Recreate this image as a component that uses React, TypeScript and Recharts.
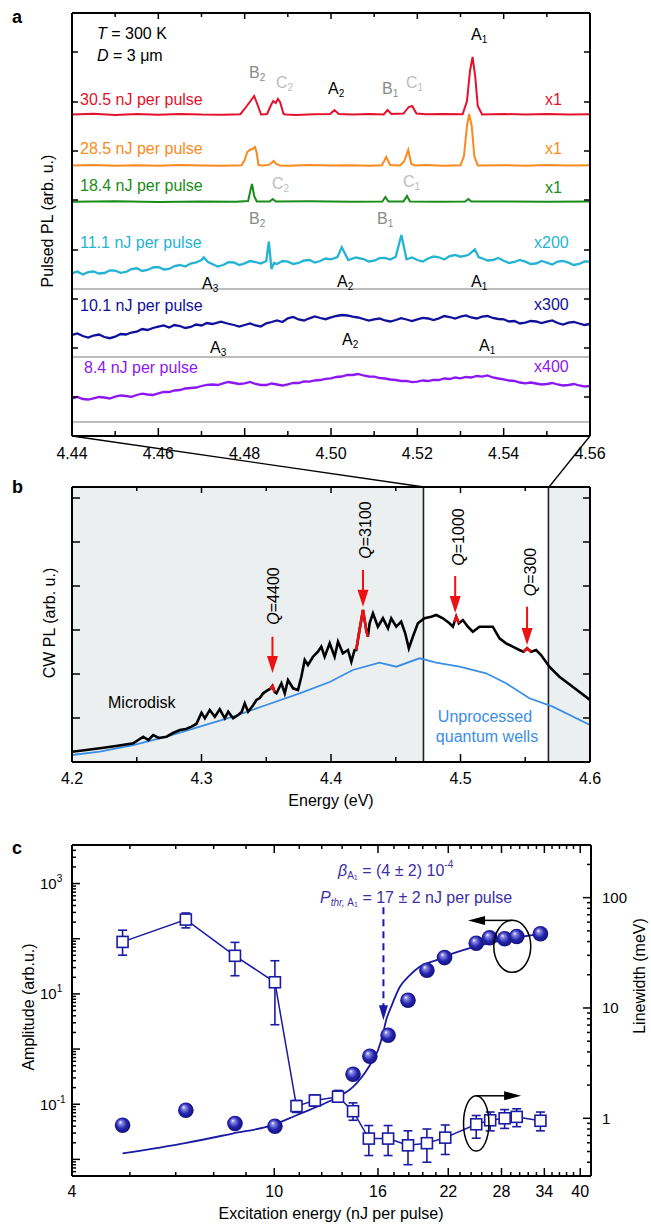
import React from 'react';
import { ComposedChart, Line, XAxis, YAxis, ReferenceLine, ReferenceArea, ReferenceDot, ErrorBar } from 'recharts';

const FONT = "'Liberation Sans', Arial, Helvetica, sans-serif";
const NAVY = '#1a1aa3';
const ANNO = '#3b2fa6';
const AX = { stroke: '#000', strokeWidth: 2 };

// ---------------- Panel a : pulsed PL ----------------
const energyTicksA = [4.44, 4.45, 4.46, 4.47, 4.48, 4.49, 4.5, 4.51, 4.52, 4.53, 4.54, 4.55, 4.56];
const pulsedTicks = [39, 88, 137, 186, 236, 285, 334, 384];
const zeroLinesA = [147, 79, 14];

const trace30_5 = [
  [4.44, 321.5], [4.445, 322.2], [4.45, 321], [4.455, 321.9], [4.46, 321.2], [4.465, 322.1], [4.47, 321.4], [4.475, 321.2], [4.479, 321.8],
  [4.4805, 330], [4.4822, 340], [4.483, 331], [4.4838, 321.5], [4.4852, 322], [4.486, 330], [4.4866, 335], [4.4872, 333], [4.4877, 337], [4.4882, 334], [4.489, 322], [4.4895, 321.5],
  [4.492, 321], [4.496, 321.8], [4.4998, 322], [4.5008, 326], [4.5018, 322], [4.505, 321.4], [4.509, 322], [4.5122, 321.6], [4.5131, 326], [4.514, 322],
  [4.5168, 322.5], [4.518, 329], [4.5188, 330], [4.5198, 322.5], [4.522, 321.7], [4.526, 322], [4.5305, 321.7], [4.5315, 335], [4.5322, 365], [4.5328, 379],
  [4.5334, 360], [4.534, 330], [4.535, 321.6], [4.54, 322], [4.545, 321.4], [4.55, 322], [4.555, 321.5], [4.56, 321.8],
];
const trace28_5 = [
  [4.44, 270.5], [4.445, 271], [4.45, 270.2], [4.455, 270.8], [4.46, 270.3], [4.465, 271], [4.47, 270.6], [4.475, 270.2], [4.4793, 270.8],
  [4.48, 276], [4.4806, 284], [4.4812, 286], [4.4818, 287], [4.4824, 289], [4.4828, 283], [4.4832, 271], [4.484, 270.5], [4.4855, 271], [4.4862, 273],
  [4.4867, 275], [4.4873, 272], [4.4882, 270.6], [4.49, 270.3], [4.495, 270.9], [4.5, 270.4], [4.505, 270.8], [4.509, 270.3], [4.5118, 270.8], [4.5128, 279],
  [4.5137, 271], [4.516, 270.6], [4.517, 275], [4.5179, 286], [4.5186, 272], [4.5195, 270.5], [4.522, 270.9], [4.526, 270.3], [4.53, 270.8], [4.5308, 280],
  [4.5315, 310], [4.532, 322], [4.5326, 310], [4.5332, 280], [4.534, 270.5], [4.54, 270.8], [4.545, 270.3], [4.55, 270.9], [4.555, 270.4], [4.56, 270.7],
];
const trace18_4 = [
  [4.44, 234.3], [4.45, 234.7], [4.46, 234.1], [4.47, 234.6], [4.478, 234.2], [4.4808, 235], [4.4813, 245], [4.4817, 252], [4.4822, 240], [4.4828, 234.5],
  [4.4858, 234.5], [4.4865, 237], [4.4872, 234.4], [4.495, 234.7], [4.505, 234.2], [4.5119, 234.5], [4.5126, 239], [4.5133, 234.5], [4.5168, 234.6],
  [4.5176, 240], [4.5183, 234.5], [4.525, 234.3], [4.5311, 234.5], [4.5318, 237], [4.5325, 234.4], [4.54, 234.6], [4.55, 234.2], [4.56, 234.5],
];
const trace11_1 = [
  [4.44, 162.7], [4.44125, 164.5], [4.4425, 161.5], [4.44375, 163.8], [4.445, 164.5], [4.44625, 162.5], [4.4475, 163], [4.44875, 165.5], [4.45, 165.3],
  [4.45125, 163.2], [4.4525, 164], [4.45375, 166.8], [4.455, 167.7], [4.45625, 165], [4.4575, 166], [4.45875, 168.5], [4.46, 169], [4.46125, 166.5],
  [4.4625, 167], [4.46375, 170], [4.465, 171], [4.46625, 169.5], [4.4675, 172.5], [4.46875, 173.5], [4.47, 176], [4.4705, 178.7], [4.4715, 174],
  [4.4725, 172], [4.47375, 169.5], [4.475, 171], [4.47625, 173.8], [4.4775, 173.5], [4.47875, 171], [4.48, 172.7], [4.48125, 175], [4.4825, 174],
  [4.48375, 172.5], [4.485, 175], [4.4856, 194.3], [4.4862, 167], [4.4868, 173], [4.4875, 172], [4.48875, 175], [4.49, 174.3], [4.49125, 172],
  [4.4925, 173], [4.49375, 175.5], [4.495, 176], [4.49625, 173.5], [4.4975, 175], [4.49875, 177.5], [4.5, 176.7], [4.5015, 179], [4.5025, 188.7],
  [4.504, 176], [4.50575, 178.5], [4.5075, 177], [4.50875, 174.5], [4.51, 175.3], [4.51125, 177.8], [4.5125, 178], [4.51375, 176.5], [4.515, 179.3],
  [4.5163, 201], [4.5175, 176.7], [4.51875, 178.5], [4.52, 176], [4.52125, 174.5], [4.5225, 177.5], [4.52375, 179.5], [4.525, 178.7], [4.52625, 176.5],
  [4.5275, 180], [4.52875, 181], [4.53, 179.3], [4.5318, 181], [4.5333, 186.7], [4.5342, 179], [4.535, 177.7], [4.53625, 175.5], [4.5375, 176],
  [4.53875, 178], [4.54, 175.3], [4.54125, 173], [4.5425, 174], [4.54375, 176], [4.545, 174.3], [4.54625, 172], [4.5475, 172.5], [4.54875, 175],
  [4.55, 173.3], [4.55125, 171.5], [4.5525, 174.5], [4.55375, 175], [4.555, 173.3], [4.55625, 171], [4.5575, 172], [4.55875, 174.5], [4.56, 174.3],
];
const trace10_1 = [
  [4.44, 101], [4.44125, 102.5], [4.4425, 100], [4.44375, 98.5], [4.445, 100.5], [4.44625, 101.5], [4.4475, 99], [4.44875, 97.8], [4.45, 99.3],
  [4.45125, 102], [4.4525, 101.5], [4.45375, 103.5], [4.455, 104.3], [4.45625, 107], [4.4575, 106], [4.45875, 108], [4.46, 109.3], [4.46125, 110.5],
  [4.4625, 108.5], [4.46375, 111], [4.465, 110], [4.46625, 108], [4.4675, 109], [4.46875, 111.5], [4.47, 110.5], [4.47125, 113], [4.4725, 112],
  [4.4745, 114.3], [4.476, 112.5], [4.4775, 111], [4.47875, 109.5], [4.48, 111], [4.48125, 112.5], [4.4825, 110.5], [4.48375, 109.5], [4.485, 112.7],
  [4.48625, 114], [4.4875, 115.5], [4.48875, 114], [4.49, 117.7], [4.49125, 119], [4.4925, 116.5], [4.49375, 115.5], [4.495, 117.7], [4.49625, 119.5],
  [4.4975, 118], [4.49875, 116.8], [4.5, 118.7], [4.50125, 120], [4.5025, 121], [4.50375, 120.5], [4.505, 119.3], [4.50625, 118.5], [4.5075, 117],
  [4.50875, 115.5], [4.51, 116.7], [4.51125, 117.5], [4.5125, 115.5], [4.51375, 114.5], [4.515, 116], [4.51625, 117.8], [4.5175, 116.5], [4.51875, 115],
  [4.52, 116.7], [4.52125, 118.2], [4.5225, 117.5], [4.52375, 116], [4.525, 117.7], [4.52625, 120], [4.5275, 119], [4.52875, 117.5], [4.53, 119.3],
  [4.53125, 120.5], [4.5325, 118.5], [4.53375, 117.5], [4.535, 119.3], [4.53625, 120], [4.5375, 118], [4.53875, 117], [4.54, 116.7], [4.54125, 114.5],
  [4.5425, 115], [4.54375, 112.5], [4.545, 113.3], [4.54625, 115], [4.5475, 114.5], [4.54875, 113], [4.55, 114.3], [4.55125, 115.5], [4.5525, 113],
  [4.55375, 111.5], [4.555, 113.3], [4.55625, 114], [4.5575, 112.5], [4.55875, 111], [4.56, 112],
];
const trace8_4 = [
  [4.44, 37.7], [4.44125, 39], [4.4425, 37], [4.44375, 36.5], [4.445, 37.7], [4.44625, 39], [4.4475, 38.5], [4.44875, 37.5], [4.45, 39.3],
  [4.45125, 40.5], [4.4525, 40], [4.45375, 39.2], [4.455, 41], [4.45625, 42.3], [4.4575, 41.5], [4.45875, 41], [4.46, 42.7], [4.46125, 44],
  [4.4625, 44], [4.46375, 45.5], [4.465, 46], [4.46625, 47.5], [4.4675, 48], [4.46875, 48.5], [4.47, 50], [4.47125, 51.2], [4.4725, 51.5],
  [4.47375, 51], [4.475, 52.7], [4.47625, 54], [4.4775, 53], [4.47875, 52], [4.48, 52.7], [4.48125, 54], [4.4825, 52], [4.48375, 51], [4.485, 51],
  [4.48625, 52.5], [4.4875, 51.5], [4.48875, 50.5], [4.49, 51.7], [4.49125, 53], [4.4925, 53], [4.49375, 54.5], [4.495, 54.3], [4.49625, 55.5],
  [4.4975, 56], [4.49875, 57.2], [4.5, 57.7], [4.50125, 59], [4.5025, 59.5], [4.50375, 61], [4.505, 61], [4.50625, 62], [4.5075, 60.5], [4.50875, 59.5],
  [4.51, 59.3], [4.51125, 58], [4.5125, 57.5], [4.51375, 56.5], [4.515, 56], [4.51625, 55], [4.5175, 55], [4.51875, 53.8], [4.52, 54.3], [4.52125, 55.5],
  [4.5225, 55], [4.52375, 56.2], [4.525, 56], [4.52625, 57.5], [4.5275, 57], [4.52875, 58.5], [4.53, 57.7], [4.53125, 59], [4.5325, 58.5], [4.53375, 60],
  [4.535, 59.3], [4.53625, 60.5], [4.5375, 58.5], [4.53875, 57.5], [4.54, 56.7], [4.54125, 55.5], [4.5425, 55], [4.54375, 53.5], [4.545, 52.7],
  [4.54625, 53.5], [4.5475, 52.5], [4.54875, 51.5], [4.55, 52], [4.55125, 53], [4.5525, 51.5], [4.55375, 50.5], [4.555, 51], [4.55625, 52], [4.5575, 50.5],
  [4.55875, 49.5], [4.56, 50],
];
const tracesA = [
  { name: '30.5', pts: trace30_5, color: '#e3122c', w: 2 },
  { name: '28.5', pts: trace28_5, color: '#fb8a1e', w: 2 },
  { name: '18.4', pts: trace18_4, color: '#1a8c1a', w: 2 },
  { name: '11.1', pts: trace11_1, color: '#25b3d3', w: 2.3 },
  { name: '10.1', pts: trace10_1, color: '#10109c', w: 2.3 },
  { name: '8.4', pts: trace8_4, color: '#8c17f4', w: 2.3 },
];

// ---------------- Panel b : CW PL ----------------
const energyTicksB = [4.2, 4.25, 4.3, 4.35, 4.4, 4.45, 4.5, 4.55, 4.6];
const cwTicks = [44, 88, 132, 176, 220, 264];
const shadedB = [[4.2, 4.4714], [4.5679, 4.6]];
const microdisk = [
  [4.2, 10.3], [4.211, 12], [4.2216, 13.7], [4.234, 16], [4.2473, 18.7], [4.255, 25.3], [4.259, 22], [4.2627, 27], [4.267, 24], [4.273, 25.3],
  [4.278, 29], [4.2833, 32], [4.288, 33], [4.2923, 35.3], [4.296, 38], [4.3, 49.3], [4.3026, 43.7], [4.3064, 52], [4.3103, 45.3], [4.3141, 52.7],
  [4.318, 43.7], [4.3206, 50.3], [4.3244, 43.7], [4.3283, 47], [4.331, 50], [4.3334, 58.7], [4.336, 50.3], [4.34, 57], [4.3424, 62], [4.345, 64],
  [4.3476, 68.7], [4.3514, 72], [4.353, 73], [4.3548, 76], [4.3565, 70], [4.3579, 68.7], [4.3617, 78.7], [4.3643, 68.7], [4.3668, 82], [4.3707, 73.7],
  [4.3745, 72], [4.3771, 85.3], [4.3797, 102], [4.3822, 97], [4.3861, 105.3], [4.3899, 110.3], [4.3925, 115.3], [4.3951, 105.3], [4.399, 118.7],
  [4.4028, 105.3], [4.4054, 120.3], [4.4092, 108.7], [4.4131, 112], [4.4157, 100.3], [4.4182, 112], [4.4195, 112], [4.4216, 128.7], [4.4247, 152],
  [4.4272, 132], [4.4285, 125.3], [4.4298, 138.7], [4.4324, 148.7], [4.4362, 135.3], [4.4401, 143.7], [4.444, 133.7], [4.4465, 143.7], [4.4504, 135.3],
  [4.4542, 140.3], [4.4573, 128.7], [4.4601, 113.7], [4.4632, 125.3], [4.4671, 138.7], [4.4722, 143.7], [4.4774, 145.3], [4.4812, 147], [4.4864, 143.7],
  [4.4915, 138.7], [4.4941, 135.3], [4.4954, 140.3], [4.4967, 145.3], [4.4987, 138.7], [4.5018, 142], [4.5057, 135.3], [4.5095, 130.3], [4.5147, 135.3],
  [4.5198, 135.3], [4.5249, 135.3], [4.5301, 123.7], [4.5352, 118.7], [4.5403, 115.3], [4.5455, 112], [4.5486, 110.3], [4.5514, 113.7], [4.5545, 110.3],
  [4.5584, 112], [4.5622, 107], [4.5686, 95.3], [4.5764, 85.3], [4.5866, 75.3], [4.6, 62],
];
const quantumWells = [
  [4.2, 7], [4.2216, 10.3], [4.2473, 17], [4.273, 25.3], [4.2987, 35.3], [4.3244, 45.3], [4.35, 57], [4.3758, 68.7], [4.399, 80], [4.4169, 92],
  [4.4375, 99.3], [4.4504, 95.3], [4.4684, 103.7], [4.4812, 99.3], [4.4992, 95.3], [4.5198, 88.7], [4.5352, 78.7], [4.5532, 63.7], [4.5712, 55.3], [4.6, 37],
];
const modes = [
  { q: '4400', e: 4.3548, from: 125.3, tip: 89, seg: [[4.353, 73], [4.3548, 76], [4.3565, 70]] },
  { q: '3100', e: 4.4247, from: 192, tip: 155.3, seg: [[4.4195, 112], [4.4216, 128.7], [4.4247, 152], [4.4272, 132], [4.4285, 125.3]] },
  { q: '1000', e: 4.4959, from: 186, tip: 149, seg: [[4.4954, 140.3], [4.4967, 145.3], [4.4987, 138.7]] },
  { q: '300', e: 4.5514, from: 155.3, tip: 117, seg: [[4.5486, 110.3], [4.5514, 113.7], [4.5545, 110.3]] },
];

// ---------------- Panel c : amplitude & linewidth ----------------
const excTicks = [4, 5.2, 6.4, 7.6, 8.8, 10, 11.2, 12.4, 13.6, 14.8, 16, 17.2, 18.4, 19.6, 20.8, 22, 23.2, 24.4, 25.6, 26.8, 28, 29.2, 30.4, 31.6, 32.8, 34, 35.2, 36.4, 37.6, 38.8, 40];
const excMajor = [4, 10, 16, 22, 28, 34, 40];
const mantissas = [1, 2, 3, 4, 5, 6, 7, 8, 9];
const ampDecades = [0.001, 0.01, 0.1, 1, 10, 100, 1000];
const lwDecades = [0.1, 1, 10, 100];
const ampLabelExps = [-1, 1, 3];

const ampE = [5.03, 6.7, 8.37, 10.03, 14.29, 15.42, 16.75, 18.33, 19.97, 21.63, 24.97, 26.53, 28.4, 30.0, 33.4];
const ampV = [0.0417, 0.078, 0.0447, 0.04, 0.349, 0.74, 1.78, 7.66, 26.8, 45.5, 83, 104, 100, 110, 123];
const fitE = [5.03, 6.72, 8.28, 9.92, 11.06, 12.3, 13.35, 14.29, 15.42, 16.0, 16.37, 16.6, 16.98, 17.66, 18.47, 19.3, 20.8, 22.4, 24.97, 28.64, 33.4];
const fitV = [0.0128, 0.0199, 0.0294, 0.0417, 0.0632, 0.095, 0.135, 0.206, 0.51, 0.95, 1.91, 3.33, 5.8, 13.3, 21.7, 30.7, 40.6, 53.7, 72.8, 97.5, 123];
const lwE = [5.03, 6.7, 8.37, 10.03, 11.06, 12.02, 13.35, 14.29, 15.35, 16.75, 18.33, 19.97, 21.7, 24.97, 26.6, 28.4, 30.0, 33.4];
const lwV = [39.7, 63.3, 29.7, 17.1, 1.29, 1.45, 1.57, 1.16, 0.655, 0.655, 0.569, 0.595, 0.668, 0.883, 0.96, 1.0, 1.03, 0.95];
const lwLow = [30.1, 53.2, 19.6, 7.05, 1.13, 1.29, 1.41, 0.96, 0.46, 0.46, 0.38, 0.4, 0.47, 0.66, 0.77, 0.81, 0.84, 0.77];
const lwHigh = [50.7, 72.6, 39.3, 26.8, 1.45, 1.63, 1.79, 1.38, 0.86, 0.86, 0.77, 0.8, 0.87, 1.06, 1.14, 1.2, 1.22, 1.14];

const toXY = (pts: number[][]) => pts.map(([x, y]) => ({ x, y }));
const ampData = ampE.map((x, i) => ({ x, y: ampV[i] }));
const fitData = fitE.map((x, i) => ({ x, y: fitV[i] }));
const lwData = lwE.map((x, i) => ({ x, y: lwV[i], err: [lwV[i] - lwLow[i], lwHigh[i] - lwV[i]] }));
const logTicks = (decades: number[], lo: number, hi: number) =>
  decades.flatMap((d) => mantissas.map((m) => +(m * d).toPrecision(3))).filter((v) => v >= lo * 0.999 && v <= hi * 1.001);
const ampTicks = logTicks(ampDecades, 0.005, 5000);
const lwTicks = logTicks(lwDecades, 0.3, 300);
const isDecade = (v: number) => Math.abs(Math.log10(v) - Math.round(Math.log10(v))) < 1e-6;

// ---------------- tick helper ----------------
function mkTick(side: string, isMajor: (v: number) => boolean, majorLen: number, minorLen: number, label?: (v: number, x: number, y: number) => any) {
  return (props: any) => {
    const { x, y, payload } = props;
    const v = payload.value;
    const len = isMajor(v) ? majorLen : minorLen;
    let x2 = x;
    let y2 = y;
    if (side === 'bottom') y2 = y - len;
    else if (side === 'top') y2 = y + len;
    else if (side === 'left') x2 = x + len;
    else x2 = x - len;
    return (
      <g>
        <line x1={x} y1={y} x2={x2} y2={y2} stroke="#000" strokeWidth={1.5} />
        {label ? label(v, x, y) : null}
      </g>
    );
  };
}
const common = { tickSize: 0, tickMargin: 0, tickLine: false, axisLine: AX, interval: 0 as const, allowDataOverflow: true };

const majA = (v: number) => Math.round(v * 100) % 2 === 0;
const majB = (v: number) => Math.round(v * 100) % 10 === 0;
const majC = (v: number) => excMajor.some((m) => Math.abs(m - v) < 1e-6);
const always = () => true;

const tickLbl = (txt: string, x: number, y: number, size = 16) => (
  <text x={x} y={y} textAnchor="middle" fontSize={size} fontFamily={FONT} fill="#000">{txt}</text>
);

// ---------------- shapes ----------------
const triDown = (w: number, h: number, color: string) => (p: any) => (
  <polygon points={`${p.cx - w},${p.cy - h} ${p.cx + w},${p.cy - h} ${p.cx},${p.cy}`} fill={color} />
);
const triLeft = (w: number, h: number, color: string) => (p: any) => (
  <polygon points={`${p.cx},${p.cy} ${p.cx + h},${p.cy - w} ${p.cx + h},${p.cy + w}`} fill={color} />
);
const triRight = (w: number, h: number, color: string) => (p: any) => (
  <polygon points={`${p.cx},${p.cy} ${p.cx - h},${p.cy - w} ${p.cx - h},${p.cy + w}`} fill={color} />
);
const ellipse = (rx: number, ry: number) => (p: any) => (
  <ellipse cx={p.cx} cy={p.cy} rx={rx} ry={ry} fill="none" stroke="#000" strokeWidth={1.5} />
);
const Sphere = (p: any) => {
  const id = `sph${p.index}`;
  return (
    <g key={`s${p.index}`}>
      <defs>
        <radialGradient id={id} cx="0.5" cy="0.5" r="0.6" fx="0.35" fy="0.3">
          <stop offset="0" stopColor="#ffffff" />
          <stop offset="0.18" stopColor="#8d8de6" />
          <stop offset="0.55" stopColor="#2424ad" />
          <stop offset="1" stopColor="#0b0b6a" />
        </radialGradient>
      </defs>
      <circle cx={p.cx} cy={p.cy} r={7.8} fill={`url(#${id})`} />
    </g>
  );
};
const SquareDot = (p: any) => (
  <rect key={`q${p.index}`} x={p.cx - 5.5} y={p.cy - 5.5} width={11} height={11} fill="#fff" stroke={NAVY} strokeWidth={1.6} />
);

// ---------------- overlay text helpers ----------------
const T = ({ x, y, children, anchor = 'start', size = 16, color = '#000', weight, rotate, italic }: any) => (
  <text
    x={x}
    y={y}
    textAnchor={anchor}
    fontSize={size}
    fill={color}
    fontFamily={FONT}
    fontWeight={weight}
    fontStyle={italic ? 'italic' : undefined}
    dominantBaseline="central"
    transform={rotate ? `rotate(${rotate} ${x} ${y})` : undefined}
  >
    {children}
  </text>
);
const Peak = ({ x, y, l, s, color = '#000' }: any) => (
  <T x={x} y={y} color={color}>
    {l}
    <tspan fontSize={10} dy={5}>{s}</tspan>
  </T>
);

const GRAYB = '#8a8a8a';
const GRAYC = '#bdbdbd';
const peaksA = [
  { x: 249, y: 72, l: 'B', s: '2', c: GRAYB }, { x: 276, y: 82, l: 'C', s: '2', c: GRAYC }, { x: 328, y: 88, l: 'A', s: '2', c: '#000' },
  { x: 382, y: 88, l: 'B', s: '1', c: GRAYB }, { x: 406, y: 82, l: 'C', s: '1', c: GRAYC }, { x: 471, y: 34, l: 'A', s: '1', c: '#000' },
  { x: 272, y: 183, l: 'C', s: '2', c: GRAYC }, { x: 403, y: 181, l: 'C', s: '1', c: GRAYC },
  { x: 249, y: 218, l: 'B', s: '2', c: GRAYB }, { x: 377, y: 218, l: 'B', s: '1', c: GRAYB },
  { x: 202, y: 283, l: 'A', s: '3', c: '#000' }, { x: 337, y: 281, l: 'A', s: '2', c: '#000' }, { x: 471, y: 281, l: 'A', s: '1', c: '#000' },
  { x: 210, y: 347, l: 'A', s: '3', c: '#000' }, { x: 342, y: 339, l: 'A', s: '2', c: '#000' }, { x: 479, y: 345, l: 'A', s: '1', c: '#000' },
];
const rowLabels = [
  { t: '30.5 nJ per pulse', m: 'x1', y: 99, my: 99, x: 80, mx: 545, c: '#e3122c' },
  { t: '28.5 nJ per pulse', m: 'x1', y: 148, my: 148, x: 80, mx: 545, c: '#fb8a1e' },
  { t: '18.4 nJ per pulse', m: 'x1', y: 185, my: 187, x: 80, mx: 545, c: '#1a8c1a' },
  { t: '11.1 nJ per pulse', m: 'x200', y: 242, my: 242, x: 80, mx: 534, c: '#25b3d3' },
  { t: '10.1 nJ per pulse', m: 'x300', y: 305, my: 304, x: 80, mx: 534, c: '#10109c' },
  { t: '8.4 nJ per pulse', m: 'x400', y: 367, my: 366, x: 84, mx: 534, c: '#8c17f4' },
];
const qLabels = [
  { q: '4400', x: 273, y: 596 }, { q: '3100', x: 365, y: 530 }, { q: '1000', x: 458, y: 537 }, { q: '300', x: 530, y: 572 },
];

export default function App() {
  return (
    <div style={{ position: 'absolute', left: 0, top: 0, width: 651, height: 1224, background: '#fff' }}>
      {/* Panel a */}
      <div style={{ position: 'absolute', left: 0, top: 0 }}>
        <ComposedChart width={651} height={470} margin={{ top: 12, right: 60, bottom: 33, left: 71 }}>
          <XAxis dataKey="x" type="number" domain={[4.44, 4.56]} ticks={energyTicksA} height={1} {...common}
            tick={mkTick('bottom', majA, 8, 5, (v, x, y) => (majA(v) ? tickLbl(v.toFixed(2), x, y + 23) : null))} />
          <XAxis xAxisId="top" orientation="top" dataKey="x" type="number" domain={[4.44, 4.56]} ticks={energyTicksA} height={1} {...common}
            tick={mkTick('top', majA, 6, 4)} />
          <YAxis type="number" domain={[0, 423]} ticks={pulsedTicks} width={1} {...common} tick={mkTick('left', always, 6, 6)} />
          <YAxis yAxisId="r" orientation="right" type="number" domain={[0, 423]} ticks={pulsedTicks} width={1} {...common} tick={mkTick('right', always, 6, 6)} />
          {zeroLinesA.map((v) => (
            <ReferenceLine key={v} y={v} stroke="#bdbdbd" strokeWidth={2} />
          ))}
          {tracesA.map((t) => (
            <Line key={t.name} data={toXY(t.pts)} dataKey="y" type="linear" stroke={t.color} strokeWidth={t.w} dot={false} activeDot={false} isAnimationActive={false} />
          ))}
        </ComposedChart>
      </div>

      {/* Panel b */}
      <div style={{ position: 'absolute', left: 0, top: 470 }}>
        <ComposedChart width={651} height={320} margin={{ top: 16, right: 60, bottom: 27, left: 71 }}>
          {shadedB.map(([a, b]) => (
            <ReferenceArea key={a} x1={a} x2={b} fill="#eceff0" fillOpacity={1} stroke="none" />
          ))}
          <XAxis dataKey="x" type="number" domain={[4.2, 4.6]} ticks={energyTicksB} height={1} {...common}
            tick={mkTick('bottom', majB, 8, 5, (v, x, y) => (majB(v) ? tickLbl(v.toFixed(1), x, y + 22) : null))} />
          <XAxis xAxisId="top" orientation="top" dataKey="x" type="number" domain={[4.2, 4.6]} ticks={energyTicksB} height={1} {...common}
            tick={mkTick('top', majB, 6, 4)} />
          <YAxis type="number" domain={[0, 275]} ticks={cwTicks} width={1} {...common} tick={mkTick('left', always, 8, 8)} />
          <YAxis yAxisId="r" orientation="right" type="number" domain={[0, 275]} ticks={cwTicks} width={1} {...common} tick={mkTick('right', always, 7, 7)} />
          {shadedB.map(([a, b]) => (
            <ReferenceLine key={`v${a}`} x={a === 4.2 ? b : a} stroke="#222" strokeWidth={1.6} />
          ))}
          <Line data={toXY(quantumWells)} dataKey="y" type="linear" stroke="#3a8ee6" strokeWidth={1.8} dot={false} activeDot={false} isAnimationActive={false} />
          <Line data={toXY(microdisk)} dataKey="y" type="linear" stroke="#000" strokeWidth={2.6} dot={false} activeDot={false} isAnimationActive={false} />
          {modes.map((m) => (
            <Line key={`seg${m.q}`} data={toXY(m.seg)} dataKey="y" type="linear" stroke="#ee1111" strokeWidth={2.6} dot={false} activeDot={false} isAnimationActive={false} />
          ))}
          {modes.map((m) => (
            <ReferenceLine key={`arr${m.q}`} segment={[{ x: m.e, y: m.from }, { x: m.e, y: m.tip + 15 }]} stroke="#ee1111" strokeWidth={2} />
          ))}
          {modes.map((m) => (
            <ReferenceDot key={`hd${m.q}`} x={m.e} y={m.tip} r={0} shape={triDown(5.5, 17, '#ee1111')} />
          ))}
        </ComposedChart>
      </div>

      {/* Panel c */}
      <div style={{ position: 'absolute', left: 0, top: 820 }}>
        <ComposedChart width={651} height={404} margin={{ top: 24, right: 59, bottom: 47, left: 71 }}>
          <XAxis dataKey="x" type="number" scale="log" domain={[4, 42]} ticks={excTicks} height={1} {...common}
            tick={mkTick('bottom', majC, 8, 4, (v, x, y) => (majC(v) ? tickLbl(String(v), x, y + 21) : null))} />
          <XAxis xAxisId="top" orientation="top" dataKey="x" type="number" scale="log" domain={[4, 42]} ticks={excTicks} height={1} {...common}
            tick={mkTick('top', majC, 8, 4)} />
          <YAxis yAxisId="amp" type="number" scale="log" domain={[0.005, 5000]} ticks={ampTicks} width={1} {...common}
            tick={mkTick('left', isDecade, 8, 4, (v, x, y) => {
              const e = Math.round(Math.log10(v));
              if (!isDecade(v) || !ampLabelExps.includes(e)) return null;
              return (
                <text x={x - 32} y={y + 5.3} fontSize={15} fontFamily={FONT} fill="#000">
                  10<tspan dy={-7} fontSize={10}>{e}</tspan>
                </text>
              );
            })} />
          <YAxis yAxisId="lw" orientation="right" type="number" scale="log" domain={[0.3, 300]} ticks={lwTicks} width={1} {...common}
            tick={mkTick('right', isDecade, 8, 4, (v, x, y) =>
              isDecade(v) ? (
                <text x={x + 11} y={y + 5.3} fontSize={15} fontFamily={FONT} fill="#000">{v}</text>
              ) : null)} />
          <Line yAxisId="amp" data={fitData} dataKey="y" type="monotone" stroke={NAVY} strokeWidth={1.8} dot={false} activeDot={false} isAnimationActive={false} />
          <Line yAxisId="lw" data={lwData} dataKey="y" type="linear" stroke={NAVY} strokeWidth={1.5} dot={SquareDot} activeDot={false} isAnimationActive={false}>
            <ErrorBar dataKey="err" direction="y" width={4.5} stroke={NAVY} strokeWidth={1.6} />
          </Line>
          <Line yAxisId="amp" data={ampData} dataKey="y" type="linear" stroke="none" dot={Sphere} activeDot={false} isAnimationActive={false} />
          <ReferenceLine yAxisId="amp" segment={[{ x: 16.4, y: 371 }, { x: 16.4, y: 6 }]} stroke={NAVY} strokeWidth={2} strokeDasharray="7 5" />
          <ReferenceDot yAxisId="amp" x={16.4} y={3.33} r={0} shape={triDown(4.5, 15, NAVY)} />
          <ReferenceDot yAxisId="amp" x={29.4} y={72.8} r={0} shape={ellipse(18.5, 26)} />
          <ReferenceLine yAxisId="amp" segment={[{ x: 29.4, y: 215 }, { x: 25.9, y: 215 }]} stroke="#000" strokeWidth={1.5} />
          <ReferenceDot yAxisId="amp" x={24.06} y={215} r={0} shape={triLeft(4.5, 17, '#000')} />
          <ReferenceDot yAxisId="lw" x={24.97} y={0.9} r={0} shape={ellipse(12.7, 27.7)} />
          <ReferenceLine yAxisId="lw" segment={[{ x: 24.97, y: 1.6 }, { x: 28.5, y: 1.6 }]} stroke="#000" strokeWidth={1.5} />
          <ReferenceDot yAxisId="lw" x={30.6} y={1.6} r={0} shape={triRight(4.5, 17, '#000')} />
        </ComposedChart>
      </div>

      {/* Overlay: annotations */}
      <svg width={651} height={1224} style={{ position: 'absolute', left: 0, top: 0, pointerEvents: 'none' }}>
        {/* panel a */}
        <T x={12} y={17} size={18} weight="bold">a</T>
        <T x={97} y={33}><tspan fontStyle="italic">T</tspan> = 300 K</T>
        <T x={97} y={55}><tspan fontStyle="italic">D</tspan> = 3 μm</T>
        {rowLabels.map((r) => (
          <g key={r.t}>
            <T x={r.x} y={r.y} color={r.c}>{r.t}</T>
            <T x={r.mx} y={r.my} color={r.c}>{r.m}</T>
          </g>
        ))}
        {peaksA.map((p, i) => (
          <Peak key={i} x={p.x} y={p.y} l={p.l} s={p.s} color={p.c} />
        ))}
        <T x={47} y={221} anchor="middle" rotate={-90}>Pulsed PL (arb. u.)</T>
        <line x1={72} y1={436} x2={424} y2={487} stroke="#000" strokeWidth={1.3} />
        <line x1={590} y1={436} x2={549} y2={487} stroke="#000" strokeWidth={1.3} />

        {/* panel b */}
        <T x={12} y={487} size={18} weight="bold">b</T>
        <T x={49} y={623} anchor="middle" rotate={-90}>CW PL (arb. u.)</T>
        <T x={331} y={800} anchor="middle">Energy (eV)</T>
        <T x={108} y={702}>Microdisk</T>
        <T x={485} y={716} anchor="middle" color="#3a8ee6">Unprocessed</T>
        <T x={487} y={736} anchor="middle" color="#3a8ee6">quantum wells</T>
        {qLabels.map((q) => (
          <T key={q.q} x={q.x} y={q.y} anchor="middle" rotate={-90}>
            <tspan fontStyle="italic">Q</tspan>={q.q}
          </T>
        ))}

        {/* panel c */}
        <T x={12} y={848} size={18} weight="bold">c</T>
        <T x={28} y={1007} anchor="middle" rotate={-90}>Amplitude (arb.u.)</T>
        <T x={639} y={976} anchor="middle" rotate={-90}>Linewidth (meV)</T>
        <T x={331} y={1213} anchor="middle">Excitation energy (nJ per pulse)</T>
        <T x={338} y={870} color={ANNO}>
          <tspan fontStyle="italic">β</tspan>
          <tspan fontSize={10} dy={5}>A</tspan>
          <tspan fontSize={7} dy={2}>1</tspan>
          <tspan dy={-7}> = (4 ± 2) 10</tspan>
          <tspan fontSize={10} dy={-6}>-4</tspan>
        </T>
        <T x={320} y={897} color={ANNO}>
          <tspan fontStyle="italic">P</tspan>
          <tspan fontSize={10} dy={5} fontStyle="italic">thr, </tspan>
          <tspan fontSize={10}>A</tspan>
          <tspan fontSize={7} dy={2}>1</tspan>
          <tspan dy={-7}> = 17 ± 2 nJ per pulse</tspan>
        </T>
      </svg>
    </div>
  );
}
